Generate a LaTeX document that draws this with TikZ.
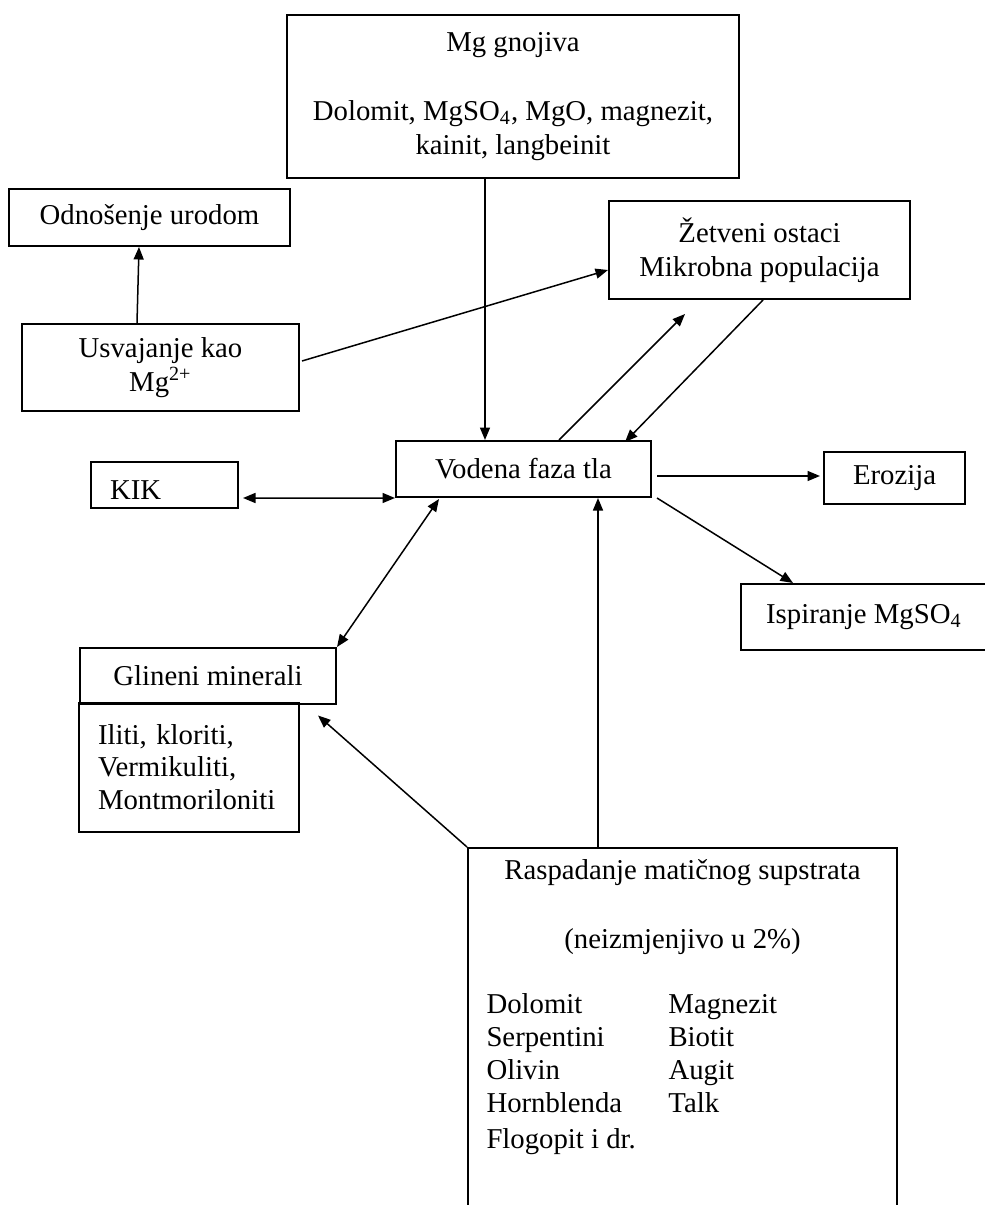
\documentclass[tikz,border=0pt]{standalone}
\usepackage{fontspec}
\setmainfont{Liberation Serif}
\usetikzlibrary{positioning,arrows.meta,calc}

\begin{document}
\begin{tikzpicture}[x=0.4pt, y=-0.4pt,
    box/.style={draw, line width=0.8pt, inner sep=4pt, align=center,
      font=\fontsize{11.5}{13.8}\selectfont},
    arr/.style={-{Triangle[length=5pt,width=4pt]}, line width=0.6pt},
    dvo/.style={{Triangle[length=5pt,width=4pt]}-{Triangle[length=5pt,width=4pt]}, line width=0.6pt}]
  \useasboundingbox (0,0) rectangle (985,1205);
  \clip (0,0) rectangle (985,1205);

  % Boxes
  \node[box, minimum width=180.8pt, minimum height=65.2pt] (gnojiva) at (513,96.5)
    {Mg gnojiva\\[13.8pt]Dolomit, MgSO\textsubscript{4}, MgO, magnezit,\\kainit, langbeinit};
  \node[box, minimum width=112.4pt, minimum height=22.8pt] (odnosenje) at (149.5,217.5) {Odnošenje urodom};
  \node[box, minimum width=120.4pt, minimum height=39.2pt] (zetveni) at (759.5,250) {Žetveni ostaci\\Mikrobna populacija};
  \node[box, minimum width=110.8pt, minimum height=34.8pt] (usvajanje) at (160.5,367.5) {Usvajanje kao\\Mg\textsuperscript{2+}};
  \node[box, minimum width=102pt, minimum height=22.4pt] (vodena) at (523.5,469) {Vodena faza tla};
  \node[box, minimum width=58.8pt, minimum height=18.4pt, align=left, text width=43.6pt, inner xsep=7.6pt,
    inner ysep=2pt, text height=11.6pt, text depth=0pt] (kik) at (164.5,485) {KIK};
  \node[box, minimum width=56.4pt, minimum height=20.8pt] (erozija) at (894.5,478) {Erozija};
  \node[box, minimum width=98.4pt, minimum height=26.4pt] (ispiranje) at (864,617) {Ispiranje MgSO\textsubscript{4}};
  \node[box, minimum width=102.4pt, minimum height=22.4pt] (glineni) at (208,676) {Glineni minerali};
  \node[box, minimum width=88pt, minimum height=51.6pt, align=left, text width=72.8pt, inner xsep=7.6pt,
    font=\fontsize{11.5}{13}\selectfont] (iliti) at (189,767) {Iliti, kloriti,\\Vermikuliti,\\Montmoriloniti};
  \node[box, minimum width=171.6pt, minimum height=146.8pt] (raspadanje) at (682.5,1031.5) {};

  % Raspadanje text
  \node[below=4.8pt of raspadanje.north, inner sep=0pt, align=center, font=\fontsize{11.5}{13.8}\selectfont] (naslov)
    {Raspadanje matičnog supstrata\\[13.8pt](neizmjenjivo u 2\%)};
  \node[anchor=base west, inner sep=0pt, font=\fontsize{11.5}{13.2}\selectfont] (stijene) at ($(raspadanje.north west)+(19,166)$)
    {\begin{tabular}[t]{@{}p{72.8pt}@{}l@{}}
      Dolomit & Magnezit\\
      Serpentini & Biotit\\
      Olivin & Augit\\
      Hornblenda & Talk\\[1.4pt]
      Flogopit i dr. &
    \end{tabular}};

  % Odnosenje urodom
  \draw[arr] ($(usvajanje.north west)+(116,0)$) -- ($(odnosenje.south west)+(131,0)$);
  % Usvajanje -> Zetveni ostaci
  \draw[arr] ($(usvajanje.north east)+(2,38)$) -- ($(zetveni.north west)+(0,70)$);
  % Mg gnojiva -> Vodena faza
  \coordinate (gnojivaizlaz) at ($(gnojiva.south)+(-28,0)$);
  \draw[arr] (gnojivaizlaz) -- (gnojivaizlaz |- vodena.north);
  % Vodena faza <-> Zetveni ostaci
  \draw[arr] ($(vodena.north west)+(164,0)$) -- ($(zetveni.south west)+(77,14)$);
  \draw[arr] ($(zetveni.south west)+(155,0)$) -- ($(vodena.north west)+(230,2)$);
  % KIK
  \coordinate (kikizlaz) at ($(kik.south east)+(4,-11)$);
  \draw[dvo] (kikizlaz) -- (vodena.south west);
  % Erozija
  \coordinate (erozijaulaz) at ($(erozija.west)+(-3,-2)$);
  \draw[arr] ($(erozijaulaz -| vodena.east)+(5,0)$) -- (erozijaulaz);
  % Ispiranje
  \draw[arr] ($(vodena.south east)+(5,0)$) -- ($(ispiranje.north west)+(53,0)$);
  % Glineni minerali
  \draw[dvo] (glineni.north east) -- ($(vodena.south west)+(44,1)$);
  % Raspadanje
  \draw[arr] (raspadanje.north west) -- ($(iliti.north east)+(18,14)$);
  \coordinate (raspadanjeizlaz) at ($(raspadanje.north west)+(131,0)$);
  \draw[arr] (raspadanjeizlaz) -- (raspadanjeizlaz |- vodena.south);
\end{tikzpicture}
\end{document}
